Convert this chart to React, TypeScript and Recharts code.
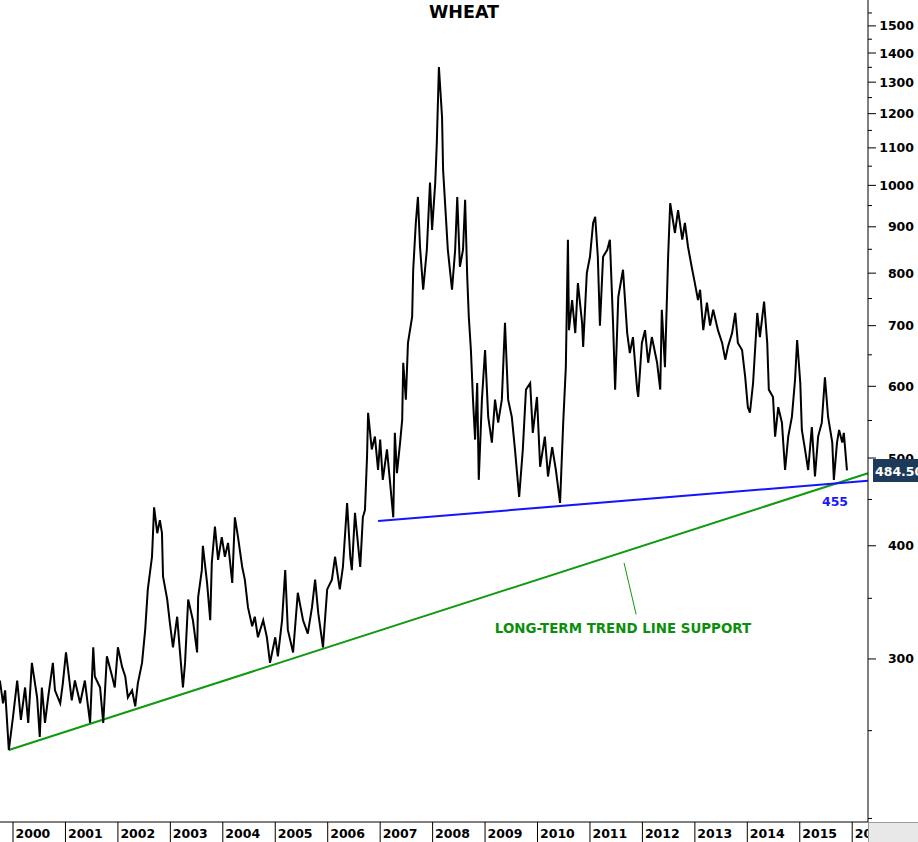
import React from "react";
import { LineChart, Line, XAxis, YAxis, ReferenceLine } from "recharts";

// Wheat price (cents/bushel), decimal year vs close
const wheatCloses: [number, number][] = [
  [1999.75,284],[1999.81,268],[1999.85,277],[1999.92,238],[2000.00,259],[2000.08,284],[2000.15,257],[2000.23,279],[2000.29,255],[2000.36,297],
  [2000.46,272],[2000.51,246],[2000.55,279],[2000.61,255],[2000.67,272],[2000.76,297],[2000.80,277],[2000.90,268],[2000.95,282],[2001.01,305],
  [2001.05,292],[2001.12,270],[2001.18,284],[2001.28,268],[2001.37,284],[2001.43,266],[2001.47,255],[2001.53,309],[2001.56,287],[2001.66,279],
  [2001.72,255],[2001.79,302],[2001.89,287],[2001.94,279],[2002.00,309],[2002.08,294],[2002.14,287],[2002.19,272],[2002.27,277],[2002.33,266],
  [2002.38,282],[2002.46,297],[2002.52,323],[2002.57,358],[2002.65,389],[2002.69,441],[2002.75,413],[2002.80,427],[2002.84,413],[2002.86,370],
  [2002.94,349],[2002.99,329],[2003.05,309],[2003.13,334],[2003.18,307],[2003.24,279],[2003.28,297],[2003.34,349],[2003.43,331],[2003.51,305],
  [2003.53,351],[2003.60,376],[2003.62,400],[2003.70,364],[2003.76,331],[2003.79,383],[2003.85,420],[2003.91,386],[2003.98,409],[2004.04,389],
  [2004.10,403],[2004.18,364],[2004.23,430],[2004.29,409],[2004.37,379],[2004.42,367],[2004.48,342],[2004.56,326],[2004.61,334],[2004.67,317],
  [2004.77,331],[2004.84,317],[2004.90,297],[2005.00,317],[2005.05,302],[2005.13,331],[2005.19,376],[2005.24,323],[2005.34,305],[2005.43,355],
  [2005.53,331],[2005.62,320],[2005.70,342],[2005.76,367],[2005.82,337],[2005.91,309],[2005.99,358],[2006.08,367],[2006.14,389],[2006.23,358],
  [2006.29,379],[2006.37,446],[2006.43,389],[2006.46,376],[2006.52,435],[2006.62,379],[2006.67,430],[2006.71,438],[2006.75,502],[2006.77,561],
  [2006.84,511],[2006.90,528],[2006.96,485],[2007.00,524],[2007.05,473],[2007.13,511],[2007.19,469],[2007.25,430],[2007.28,533],[2007.32,481],
  [2007.38,520],[2007.42,551],[2007.44,637],[2007.49,580],[2007.53,670],[2007.61,716],[2007.63,807],[2007.68,909],[2007.72,971],[2007.76,855],
  [2007.82,767],[2007.89,849],[2007.95,1007],[2007.99,893],[2008.05,1007],[2008.08,1114],[2008.12,1351],[2008.18,1190],[2008.20,1040],[2008.26,909],
  [2008.29,849],[2008.37,767],[2008.43,849],[2008.47,971],[2008.52,813],[2008.58,849],[2008.62,964],[2008.66,792],[2008.69,716],[2008.73,658],
  [2008.77,580],[2008.81,524],[2008.85,605],[2008.88,473],[2008.94,580],[2009.00,658],[2009.06,555],[2009.13,520],[2009.19,580],[2009.25,547],
  [2009.32,580],[2009.38,705],[2009.44,580],[2009.51,555],[2009.57,511],[2009.65,453],[2009.72,511],[2009.78,595],[2009.86,605],[2009.91,533],
  [2009.99,584],[2010.05,489],[2010.14,528],[2010.20,477],[2010.28,514],[2010.35,485],[2010.43,446],[2010.49,547],[2010.54,630],[2010.58,871],
  [2010.60,692],[2010.66,747],[2010.72,687],[2010.77,780],[2010.85,705],[2010.87,663],[2010.94,800],[2011.00,834],[2011.06,909],[2011.10,923],
  [2011.15,834],[2011.19,700],[2011.25,834],[2011.33,849],[2011.38,871],[2011.44,705],[2011.48,595],[2011.54,753],[2011.63,807],[2011.71,687],
  [2011.76,653],[2011.82,680],[2011.90,595],[2011.92,584],[2011.99,670],[2012.05,692],[2012.11,637],[2012.18,680],[2012.28,637],[2012.34,595],
  [2012.37,729],[2012.43,630],[2012.49,834],[2012.53,956],[2012.62,886],[2012.68,939],[2012.76,871],[2012.81,909],[2012.87,855],[2012.95,807],
  [2013.00,780],[2013.06,747],[2013.10,767],[2013.16,692],[2013.23,742],[2013.29,700],[2013.35,729],[2013.44,692],[2013.52,670],[2013.58,642],
  [2013.63,663],[2013.71,687],[2013.77,723],[2013.82,670],[2013.90,658],[2013.96,614],[2014.01,569],[2014.05,561],[2014.11,605],[2014.19,723],
  [2014.24,680],[2014.32,744],[2014.38,670],[2014.41,595],[2014.49,584],[2014.53,528],[2014.59,569],[2014.66,547],[2014.72,485],[2014.78,528],
  [2014.85,555],[2014.91,610],[2014.95,675],[2015.01,605],[2015.04,537],[2015.10,511],[2015.16,485],[2015.23,541],[2015.29,477],[2015.35,528],
  [2015.42,547],[2015.48,614],[2015.54,555],[2015.62,520],[2015.65,473],[2015.71,520],[2015.75,537],[2015.81,520],[2015.84,533],[2015.90,484.5],
];

const yearTicks = [2000,2001,2002,2003,2004,2005,2006,2007,2008,2009,2010,2011,2012,2013,2014,2015,2016];
const majorPriceTicks = [300,400,500,600,700,800,900,1000,1100,1200,1300,1400,1500];
const minorPriceTicks = [200,250,350,450,550,650,750,850,950,1050,1150,1250,1350,1450,1550];
const priceTicks = [...minorPriceTicks, ...majorPriceTicks].sort((a, b) => a - b);

const timeDomain = [1999.752, 2016.301];
const priceDomain = [198.2, 1602];

// trend lines: [start, end] as [year, price]
const longTermSupport = [{ x: 1999.92, y: 238 }, { x: 2016.30, y: 481 }];
const supportLine = [{ x: 2006.96, y: 426 }, { x: 2016.30, y: 472 }];
const calloutPointer = [{ x: 2011.65, y: 383 }, { x: 2011.88, y: 336 }];

const lastPrice = "484.50";
const supportLabel = "455";
const trendLabel = "LONG-TERM TREND LINE SUPPORT";
const title = "WHEAT";

const series = wheatCloses.map(([t, p]) => ({ t, p }));

const FONT = "'DejaVu Sans', Verdana, sans-serif";

const YTick = (props: any) => {
  const { x, y, payload } = props;
  const v = payload.value;
  const major = majorPriceTicks.includes(v);
  return (
    <g>
      <line x1={x} x2={x + (major ? 8 : 4)} y1={y} y2={y} stroke="#000" strokeWidth={1} />
      {major && (
        <text x={x + 46} y={y + 4.5} textAnchor="end" fontFamily={FONT} fontWeight="bold" fontSize={12.5} fill="#000">
          {v}
        </text>
      )}
    </g>
  );
};

const XTick = (props: any) => {
  const { x, y, payload } = props;
  return (
    <g>
      <line x1={x} x2={x} y1={y} y2={y + 20} stroke="#000" strokeWidth={1} />
      <text x={x + 2.5} y={y + 15.5} textAnchor="start" fontFamily={FONT} fontWeight="bold" fontSize={12.5} fill="#000">
        {payload.value}
      </text>
    </g>
  );
};

export default function App() {
  return (
    <div style={{ position: "absolute", left: 0, top: 0, width: 918, height: 842, overflow: "hidden", background: "#fff", fontFamily: FONT }}>
      <LineChart width={918} height={842} data={series} margin={{ top: 0, right: 0, bottom: 0, left: 0 }}>
        <XAxis
          dataKey="t"
          type="number"
          domain={timeDomain}
          allowDataOverflow
          ticks={yearTicks}
          interval={0}
          height={20}
          tickSize={0}
          tickMargin={0}
          tickLine={false}
          axisLine={{ stroke: "#000", strokeWidth: 1 }}
          tick={<XTick />}
        />
        <YAxis
          orientation="right"
          scale="log"
          domain={priceDomain}
          allowDataOverflow
          ticks={priceTicks}
          interval={0}
          width={50}
          tickSize={0}
          tickMargin={0}
          tickLine={false}
          axisLine={{ stroke: "#000", strokeWidth: 1 }}
          tick={<YTick />}
        />
        <ReferenceLine segment={longTermSupport} stroke="#0f9a0f" strokeWidth={2} ifOverflow="visible" />
        <ReferenceLine segment={supportLine} stroke="#1414ff" strokeWidth={2} ifOverflow="visible" />
        <ReferenceLine segment={calloutPointer} stroke="#0f9a0f" strokeWidth={1} ifOverflow="visible" />
        <Line dataKey="p" type="linear" stroke="#000" strokeWidth={2} dot={false} isAnimationActive={false} />
      </LineChart>
      <svg width={918} height={842} style={{ position: "absolute", left: 0, top: 0, pointerEvents: "none" }}>
        <text x={464} y={18} textAnchor="middle" fontFamily={FONT} fontWeight="bold" fontSize={17.5} fill="#000">{title}</text>
        <text x={835} y={505.5} textAnchor="middle" fontFamily={FONT} fontWeight="bold" fontSize={12.5} fill="#1a1aff">{supportLabel}</text>
        <text x={623} y={633} textAnchor="middle" fontFamily={FONT} fontWeight="bold" fontSize={13.4} fill="#0b8f0b">{trendLabel}</text>
        <rect x={873} y={459} width={50} height={23} fill="#1d3a5a" />
        <text x={875} y={475.5} textAnchor="start" fontFamily={FONT} fontWeight="bold" fontSize={12.5} fill="#fff">{lastPrice}</text>
        <rect x={868.5} y={822.5} width={50} height={20} fill="#e8e8e8" stroke="#9a9a9a" strokeWidth={1} />
      </svg>
    </div>
  );
}
